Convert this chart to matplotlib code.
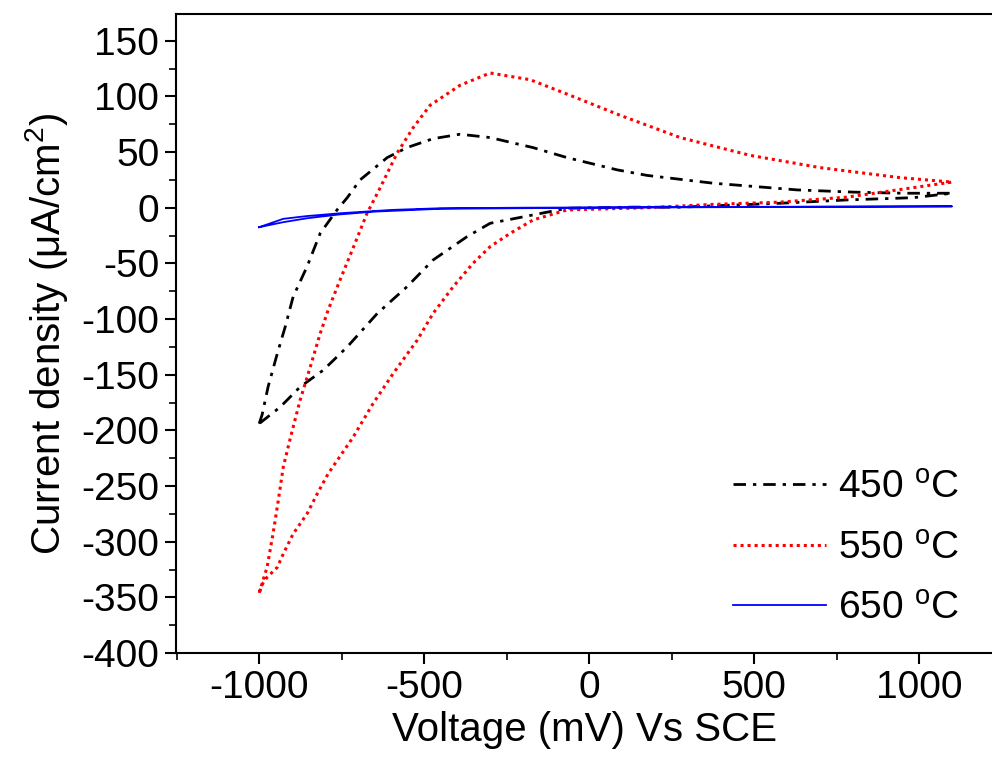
import matplotlib
matplotlib.use("Agg")
import matplotlib.pyplot as plt

plt.rcParams['font.family'] = ['Liberation Sans', 'DejaVu Sans']
plt.rcParams['mathtext.fontset'] = 'custom'
plt.rcParams['mathtext.rm'] = 'Liberation Sans'
plt.rcParams['mathtext.it'] = 'Liberation Sans:italic'
plt.rcParams['axes.unicode_minus'] = False

# 450 C loop (voltage mV, current density uA/cm2)
v450 = [-1000, -991, -973, -945, -921, -897, -855, -815, -764, -733, -694, -612, -552, -473, -391,
        -300, -170, -67, 85, 176, 376, 630, 800, 950, 1100,
        982, 782, 579, 276, 133, -67, -170, -300, -370, -473, -552, -642, -733, -806, -876, -936, -1000]
j450 = [-194, -186, -161, -131, -107, -80, -53, -23, -2, 9, 25, 45, 54, 62, 66,
        63, 54, 45, 34, 29, 22, 16, 14, 13, 13,
        9, 7, 4, 0.5, 0.5, -0.5, -6.5, -14, -26, -47, -71, -95, -125, -146, -161, -179, -194]

# 550 C loop
v550 = [-1000, -976, -958, -942, -927, -903, -876, -845, -815, -791, -755, -715, -673, -633, -582,
        -533, -482, -391, -300, -179, -58, 94, 276, 488, 700, 942, 1100,
        982, 782, 579, 376, 176, -67, -170, -239, -300, -352, -412, -473, -521, -594, -655, -715,
        -791, -824, -855, -897, -927, -945, -976, -988, -1000]
j550 = [-346, -323, -293, -263, -233, -204, -173, -143, -113, -92, -65, -36, -5, 18, 49,
        72, 92, 110, 121, 115, 101, 83, 63, 47, 36, 27, 23,
        18, 9.5, 5, 3, 0, -2, -11, -23, -35, -50, -71, -95, -119, -149, -176, -206,
        -239, -257, -275, -293, -311, -323, -332, -337, -346]

# 650 C loop
v650 = [-1000, -927, -855, -755, -600, -452, -200, 0, 500, 1100,
        500, 0, -452, -650, -755, -855, -927, -1000]
j650 = [-17.5, -10, -7.5, -5, -2, -0.5, 0, 0.2, 0.8, 1.2,
        0.6, 0, -1, -3.5, -6, -9.5, -13, -17.5]

labels = ['450 $^{\\mathrm{o}}$C', '550 $^{\\mathrm{o}}$C', '650 $^{\\mathrm{o}}$C']
xticks = [-1000, -500, 0, 500, 1000]
yticks = list(range(-400, 151, 50))

fig = plt.figure(figsize=(9.92, 7.66), dpi=100)
ax = fig.add_axes([176/992, 1-653/766, 1-176/992, (653-14)/766])

ax.plot(v450, j450, color='black', lw=2.0, linestyle=(0, (4.5, 2.5, 1.2, 2.5)), label=labels[0])
ax.plot(v550, j550, color='#ff0000', lw=2.2, linestyle=(0, (1, 1.3)), label=labels[1])
ax.plot(v650, j650, color='#0000ff', lw=1.3, label=labels[2])

ax.set_xlim(-1252, 1221)
ax.set_ylim(-400, 174)
ax.set_xticks(xticks)
ax.set_yticks(yticks)
ax.set_xticks([-1250, -750, -250, 250, 750], minor=True)
ax.set_yticks([y + 25 for y in range(-400, 150, 50)], minor=True)
ax.tick_params(axis='both', which='major', direction='out', length=8, width=1.5, labelsize=28, pad=4)
ax.tick_params(axis='both', which='minor', direction='out', length=5, width=1.2)
ax.spines['right'].set_visible(False)
for s in ['left', 'bottom', 'top']:
    ax.spines[s].set_linewidth(1.5)

ax.set_xlabel('Voltage (mV) Vs SCE', fontsize=29, labelpad=4)
ax.set_ylabel('Current density (μA/cm$^{2}$)', fontsize=29, labelpad=8)

leg = ax.legend(loc='upper left', bbox_to_anchor=(733/992, 1-470/766), bbox_transform=fig.transFigure,
                frameon=False, fontsize=28, handlelength=2.4, handletextpad=0.3,
                labelspacing=0.63, borderpad=0, borderaxespad=0)

fig.savefig('out.png', dpi=100)
